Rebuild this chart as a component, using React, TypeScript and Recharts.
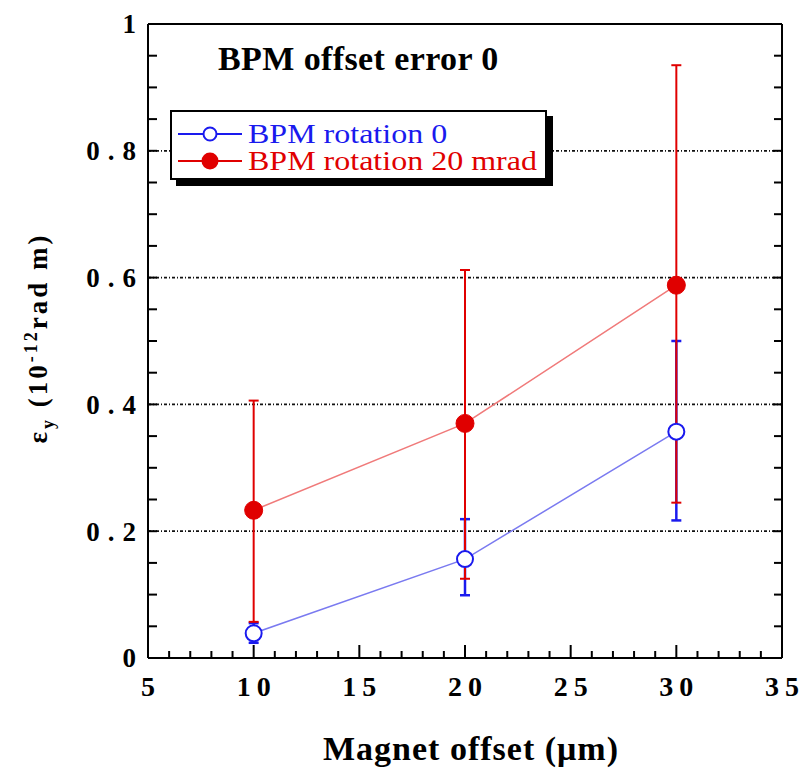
import React from 'react';
import {
  ComposedChart,
  Line,
  XAxis,
  YAxis,
  ErrorBar,
  ReferenceLine,
  Legend,
} from 'recharts';

// magnet offset (um)
const offsets = [10, 20, 30];
// BPM rotation 0
const rot0 = [0.039, 0.156, 0.357];
const rot0Err = [
  [0.015, 0.016],
  [0.057, 0.063],
  [0.14, 0.143],
];
// BPM rotation 20 mrad
const rot20 = [0.233, 0.37, 0.588];
const rot20Err = [
  [0.176, 0.173],
  [0.245, 0.242],
  [0.343, 0.347],
];

const xMajor = [5, 10, 15, 20, 25, 30, 35];
const xTicks = Array.from({ length: 31 }, (_, i) => 5 + i);
const yMajor = [0, 0.2, 0.4, 0.6, 0.8, 1];
const yLabels = ['0', '0.2', '0.4', '0.6', '0.8', '1'];
const yTicks = Array.from({ length: 21 }, (_, i) => Math.round(i * 5) / 100);
const gridY = [0.2, 0.4, 0.6, 0.8];

const data = offsets.map((x, i) => ({
  x,
  rot0: rot0[i],
  rot0Err: rot0Err[i],
  rot20: rot20[i],
  rot20Err: rot20Err[i],
}));

const series = [
  { name: 'BPM rotation 0', color: '#1a1aee', open: true },
  { name: 'BPM rotation 20 mrad', color: '#e00000', open: false },
];

const FONT = '"Liberation Serif", "Times New Roman", Times, serif';
const labelStyle = { fontFamily: FONT, fontWeight: 'bold' as const, fontSize: 28 };

const isMajorY = (v: number) => yMajor.some((m) => Math.abs(m - v) < 1e-6);

const BottomTick = ({ x, y, payload }: any) => {
  const major = xMajor.includes(payload.value);
  return (
    <g>
      <line x1={x} x2={x} y1={y} y2={y - (major ? 13 : 7)} stroke="#000" strokeWidth={2} />
      {major && (
        <text x={x + 3} y={y + 38} textAnchor="middle" fill="#000" letterSpacing={6} style={labelStyle}>
          {payload.value}
        </text>
      )}
    </g>
  );
};

const TopTick = ({ x, y, payload }: any) => {
  const major = xMajor.includes(payload.value);
  return <line x1={x} x2={x} y1={y} y2={y + (major ? 13 : 8)} stroke="#000" strokeWidth={2} />;
};

const LeftTick = ({ x, y, payload }: any) => {
  const idx = yMajor.findIndex((m) => Math.abs(m - payload.value) < 1e-6);
  return (
    <g>
      <line x1={x} x2={x + 9} y1={y} y2={y} stroke="#000" strokeWidth={2} />
      {idx >= 0 && (
        <text
          x={x - 4}
          y={y}
          dy="0.35em"
          textAnchor="end"
          fill="#000"
          letterSpacing={8}
          style={{ ...labelStyle, fontSize: 27 }}
        >
          {yLabels[idx]}
        </text>
      )}
    </g>
  );
};

const RightTick = ({ x, y, payload }: any) => (
  <line x1={x} x2={x - (isMajorY(payload.value) ? 9 : 8)} y1={y} y2={y} stroke="#000" strokeWidth={2} />
);

const LegendBox = () => (
  <div
    style={{
      border: '2px solid #000',
      background: '#fff',
      boxShadow: '6px 6px 0 #000',
      width: 377,
      height: 70,
      paddingTop: 8,
      boxSizing: 'border-box',
      fontFamily: FONT,
      fontSize: 32,
    }}
  >
    {series.map((s) => (
      <div key={s.name} style={{ display: 'flex', alignItems: 'center', height: 27 }}>
        <svg width={76} height={20} style={{ flex: 'none' }}>
          <line x1={6} x2={70} y1={10} y2={10} stroke={s.color} strokeWidth={2} />
          <circle cx={38} cy={10} r={s.open ? 6.5 : 7.5} fill={s.open ? '#fff' : s.color} stroke={s.color} strokeWidth={2} />
        </svg>
        <span
          style={{
            display: 'inline-block',
            color: s.color,
            whiteSpace: 'nowrap',
            lineHeight: 1,
            transform: 'scaleY(0.86)',
          }}
        >
          {s.name}
        </span>
      </div>
    ))}
  </div>
);

export default function App() {
  return (
    <div style={{ position: 'absolute', left: 0, top: 0, width: 811, height: 769, background: '#fff' }}>
      <ComposedChart width={811} height={769} data={data} margin={{ top: 0, right: 0, bottom: 0, left: 0 }}>
        {gridY.map((v) => (
          <ReferenceLine key={v} y={v} stroke="#111" strokeWidth={1.8} strokeDasharray="3 2 1 2" />
        ))}
        <XAxis
          dataKey="x"
          type="number"
          domain={[5, 35]}
          ticks={xTicks}
          interval={0}
          allowDataOverflow
          height={111}
          tickSize={0}
          tickMargin={0}
          tickLine={false}
          axisLine={{ stroke: '#000', strokeWidth: 2 }}
          tick={<BottomTick />}
        />
        <XAxis
          xAxisId="top"
          orientation="top"
          type="number"
          domain={[5, 35]}
          ticks={xTicks}
          interval={0}
          allowDataOverflow
          height={24}
          tickSize={0}
          tickMargin={0}
          tickLine={false}
          axisLine={{ stroke: '#000', strokeWidth: 2 }}
          tick={<TopTick />}
        />
        <YAxis
          type="number"
          domain={[0, 1]}
          ticks={yTicks}
          interval={0}
          allowDataOverflow
          width={148}
          tickSize={0}
          tickMargin={0}
          tickLine={false}
          axisLine={{ stroke: '#000', strokeWidth: 2 }}
          tick={<LeftTick />}
        />
        <YAxis
          yAxisId="right"
          orientation="right"
          type="number"
          domain={[0, 1]}
          ticks={yTicks}
          interval={0}
          allowDataOverflow
          width={29}
          tickSize={0}
          tickMargin={0}
          tickLine={false}
          axisLine={{ stroke: '#000', strokeWidth: 2 }}
          tick={<RightTick />}
        />
        <Legend
          layout="horizontal"
          verticalAlign="middle"
          align="center"
          content={<LegendBox />}
          wrapperStyle={{ left: 170, top: 110, width: 384 }}
        />
        <Line
          dataKey="rot0"
          stroke="none"
          dot={false}
          activeDot={false}
          legendType="none"
          isAnimationActive={false}
        >
          <ErrorBar dataKey="rot0Err" direction="y" width={5} stroke="#1a1aee" strokeWidth={2.5} />
        </Line>
        <Line
          dataKey="rot20"
          name="BPM rotation 20 mrad"
          stroke="#f07a7a"
          strokeWidth={1.5}
          dot={{ r: 9, fill: '#e00000', stroke: '#e00000', strokeWidth: 1 }}
          activeDot={false}
          isAnimationActive={false}
        >
          <ErrorBar dataKey="rot20Err" direction="y" width={5} stroke="#e00000" strokeWidth={2} />
        </Line>
        <Line
          dataKey="rot0"
          name="BPM rotation 0"
          stroke="#7a7af0"
          strokeWidth={1.5}
          dot={{ r: 8, fill: '#fff', stroke: '#1a1aee', strokeWidth: 2 }}
          activeDot={false}
          isAnimationActive={false}
        />
      </ComposedChart>
      <div
        style={{
          position: 'absolute',
          left: 218,
          top: 39,
          fontFamily: FONT,
          fontWeight: 'bold',
          fontSize: 34,
          letterSpacing: 0.4,
          whiteSpace: 'nowrap',
          lineHeight: '40px',
        }}
      >
        BPM offset error 0
      </div>
      <div
        style={{
          position: 'absolute',
          left: 471,
          top: 749,
          transform: 'translate(-50%, -50%)',
          fontFamily: FONT,
          fontWeight: 'bold',
          fontSize: 34,
          letterSpacing: 1,
          whiteSpace: 'nowrap',
        }}
      >
        Magnet offset (μm)
      </div>
      <div
        style={{
          position: 'absolute',
          left: 40,
          top: 338,
          transform: 'translate(-50%, -50%) rotate(-90deg)',
          fontFamily: FONT,
          fontWeight: 'bold',
          fontSize: 27,
          letterSpacing: 3,
          whiteSpace: 'nowrap',
        }}
      >
        ε<sub style={{ fontSize: 18 }}>y</sub> (10<sup style={{ fontSize: 18 }}>-12</sup>rad m)
      </div>
    </div>
  );
}
